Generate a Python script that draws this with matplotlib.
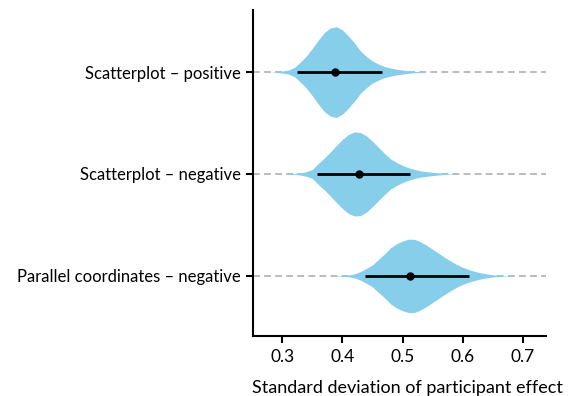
import matplotlib.pyplot as plt
import numpy as np

# rows of the chart, top to bottom
labels = ['Scatterplot – positive', 'Scatterplot – negative', 'Parallel coordinates – negative']

# point estimate and interval for each row
estimates = [0.388, 0.427, 0.513]
lower = [0.325, 0.358, 0.437]
upper = [0.466, 0.513, 0.611]

# posterior density for each row, sampled every 0.01
grid_1 = np.arange(0.28, 0.545, 0.01)
dens_1 = [0, 0.3, 1, 2, 4.5, 10, 16, 23.7, 32, 39.5, 44, 45.3, 42, 36, 29,
          21, 15.5, 11, 8, 5.5, 4, 2.8, 2, 1.2, 0.7, 0.3, 0]
grid_2 = np.arange(0.30, 0.605, 0.01)
dens_2 = [0, 0.1, 0.5, 1.1, 2.3, 4.5, 10.5, 16, 22, 28.5, 34.5, 39.5, 42, 41.5,
          38, 32.5, 26.5, 20.5, 15, 11.5, 8.5, 6.2, 4.5, 3.1, 2.3, 1.6, 1, 0.5,
          0.2, 0.05, 0]
grid_3 = np.arange(0.38, 0.685, 0.01)
dens_3 = [0, 0.1, 0.4, 0.9, 2, 4.3, 7.5, 11, 16.5, 22, 28, 32, 34.8, 36.7, 36.5,
          34, 30.5, 26.5, 22.5, 18.5, 14.7, 11.3, 8.5, 6.3, 4.5, 3, 1.9, 1.1,
          0.5, 0.2, 0]

grids = [grid_1, grid_2, grid_3]
densities = [dens_1, dens_2, dens_3]

plt.rcParams['font.family'] = ['Lato', 'DejaVu Sans']
plt.rcParams['font.size'] = 12

fig = plt.figure(figsize=(5.68, 3.96), dpi=100)
ax = fig.add_axes([0.445, 0.1515, 0.516, 0.8235])

dmax = max(max(d) for d in densities)
half = 0.445  # half-height of the tallest violin

for i in range(len(labels)):
    ax.axhline(i, color='#b8bcc0', lw=1.4, ls=(0, (3.5, 2.2)), zorder=1)
    d = np.array(densities[i]) / dmax * half
    ax.fill_between(grids[i], i - d, i + d, color='#87ceeb', lw=0, zorder=2)
    ax.plot([lower[i], upper[i]], [i, i], color='black', lw=2, zorder=3,
            solid_capstyle='butt')
    ax.plot(estimates[i], i, 'o', color='black', ms=5, zorder=4)

ax.set_xlim(0.251, 0.738)
ax.set_ylim(2.59, -0.61)
ax.set_yticks(range(len(labels)))
ax.set_yticklabels(labels, fontsize=12)
ax.set_xticks([0.3, 0.4, 0.5, 0.6, 0.7])
ax.set_xticklabels(['0.3', '0.4', '0.5', '0.6', '0.7'], fontsize=12.5)
ax.set_xlabel('Standard deviation of participant effect', fontsize=13)
ax.xaxis.set_label_coords(0.529, -0.135)

for side in ['top', 'right']:
    ax.spines[side].set_visible(False)
for side in ['left', 'bottom']:
    ax.spines[side].set_linewidth(1.5)
ax.tick_params(axis='both', width=1.5, length=5, color='black')
ax.tick_params(axis='x', pad=4)

fig.savefig('out.png', dpi=100)
